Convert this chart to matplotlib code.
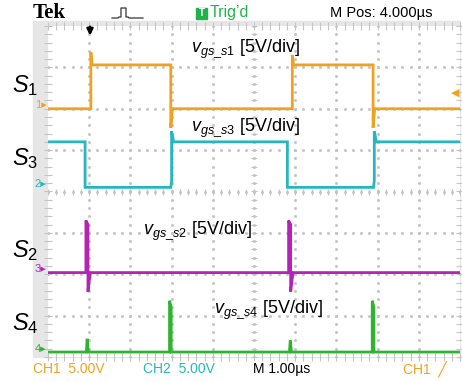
import matplotlib
matplotlib.use("Agg")
import matplotlib.pyplot as plt
from matplotlib.patches import Rectangle
from matplotlib.lines import Line2D
import numpy as np

plt.rcParams['font.family'] = ['Liberation Sans', 'DejaVu Sans']
plt.rcParams['mathtext.fontset'] = 'custom'
plt.rcParams['mathtext.it'] = 'Liberation Sans:italic'
plt.rcParams['mathtext.rm'] = 'Liberation Sans'

W, H = 462, 382
VOLTS_PER_DIV = 5.0

# time in us (1 us/div), levels in volts
t_s1 = [0.00, 1.04, 1.04, 1.07, 2.98, 2.98, 3.02, 5.93, 5.93, 5.96, 7.89, 7.89, 7.93, 10.0]
v_s1 = [0.0, 0.0, 6.8, 5.3, 5.3, -2.3, 0.0, 0.0, 6.5, 5.3, 5.3, -2.3, 0.0, 0.0]

t_s3 = [0.00, 0.90, 0.90, 2.98, 3.00, 3.00, 3.05, 5.81, 5.81, 7.90, 7.92, 7.92, 7.97, 10.0]
v_s3 = [5.5, 5.5, 0.0, 0.0, 0.8, 6.8, 5.5, 5.5, 0.0, 0.0, 0.8, 6.8, 5.5, 5.5]

t_s2 = [0.00, 0.92, 0.92, 0.97, 0.97, 1.00, 1.03, 5.84, 5.84, 5.89, 5.89, 5.92, 5.95, 10.0]
v_s2 = [0.0, 0.0, 6.3, 5.8, -2.3, -1.0, 0.0, 0.0, 6.3, 5.8, -2.3, -1.0, 0.0, 0.0]

t_s4 = [0.00, 0.93, 0.95, 0.98, 2.95, 2.95, 2.99, 2.99, 5.86, 5.88, 5.91, 7.87, 7.87, 7.91, 7.91, 10.0]
v_s4 = [0.0, 0.0, 1.6, 0.0, 0.0, 6.2, 5.4, 0.0, 0.0, 1.4, 0.0, 0.0, 6.2, 5.4, 0.0, 0.0]

# channel ground offsets on screen (div)
offsets = {'1': 2.0, '2': 0.1, '3': -1.96, '4': -3.88}
colors = {'1': '#f0a21e', '2': '#25b6bf', '3': '#b324b6', '4': '#2fb42f'}
traces = {'1': (t_s1, v_s1), '2': (t_s3, v_s3), '3': (t_s2, v_s2), '4': (t_s4, v_s4)}

fig = plt.figure(figsize=(W / 100, H / 100), dpi=100)


def fx(x):
    return x / W


def fy(y):
    return 1 - y / H


# bezel strip around the graticule
fig.patches.append(Rectangle((fx(33), fy(357)), fx(460) - fx(33), fy(21) - fy(357),
                             transform=fig.transFigure, color='#e6e6e6', zorder=-5))

ax = fig.add_axes([fx(48), fy(357), fx(460) - fx(48), fy(26) - fy(357)])
ax.set_xlim(0, 10)
ax.set_ylim(-4, 4)
ax.set_facecolor('white')
for s in ax.spines.values():
    s.set_visible(False)
ax.set_xticks([])
ax.set_yticks([])

# graticule: dotted division lines
dots = np.arange(0, 10.01, 0.2)
vdots = np.arange(-4, 4.01, 0.2)
gc = '#c4c4c4'
for gx in range(1, 10):
    ax.plot(np.full_like(vdots, gx), vdots, ls='none', marker='s', ms=1.0, color=gc, zorder=1)
for gy in range(-3, 4):
    ax.plot(dots, np.full_like(dots, gy), ls='none', marker='s', ms=1.0, color=gc, zorder=1)
# centre cross and edge ticks
ax.plot(dots, np.zeros_like(dots), ls='none', marker='|', ms=5, mew=0.8, color=gc, zorder=1)
ax.plot(np.full_like(vdots, 5), vdots, ls='none', marker='_', ms=5, mew=0.8, color=gc, zorder=1)
for ey in (4, -4):
    ax.plot(dots, np.full_like(dots, ey), ls='none', marker='|', ms=6, mew=0.8, color=gc,
            zorder=1, clip_on=False)
for ex in (0, 10):
    ax.plot(np.full_like(vdots, ex), vdots, ls='none', marker='_', ms=6, mew=0.8, color=gc,
            zorder=1, clip_on=False)

for ch, (t, v) in traces.items():
    y = np.array(v) / VOLTS_PER_DIV + offsets[ch]
    ax.plot(t, y, color=colors[ch], lw=2.0, solid_joinstyle='miter', zorder=3)

# channel ground markers
for ch, off in offsets.items():
    ax.text(-0.03, off + 0.08, ch + '\u25b8', color=colors[ch], fontsize=8,
            ha='right', va='center', clip_on=False)

# trigger position and level markers
ax.annotate('', xy=(1.02, 3.7), xytext=(1.02, 4.05),
            arrowprops=dict(arrowstyle='-|>', color='black', lw=1.8, mutation_scale=9),
            annotation_clip=False)
ax.text(9.99, 2.38, '\u25c0', color=colors['1'], fontsize=8, ha='right', va='center')

lab_kw = dict(fontsize=13, va='center', ha='left')
ax.text(3.46, 3.45, r'$v_{gs\_s1}$ [5V/div]', **lab_kw)
ax.text(3.46, 1.55, r'$v_{gs\_s3}$ [5V/div]', **lab_kw)
ax.text(2.30, -0.95, r'$v_{gs\_s2}$ [5V/div]', **lab_kw)
ax.text(4.02, -2.87, r'$v_{gs\_s4}$ [5V/div]', **lab_kw)

# switch names on the left
for name, yy in (('1', 86), ('3', 159), ('2', 251), ('4', 324)):
    fig.text(fx(12), fy(yy), r'$S_{%s}$' % name, fontsize=17, ha='left', va='center')

# header line
fig.text(fx(33), fy(13), 'Tek', family='Liberation Serif', fontweight='bold',
         fontsize=15, va='center')
px = np.array([112, 118, 119, 121, 121, 126, 126, 128, 129, 134, 136, 143])
py = np.array([18, 18, 17, 17, 8, 8, 17, 17, 18, 18, 18, 18])
fig.add_artist(Line2D(fx(px), fy(py), color='#333333', lw=0.9))
fig.patches.append(Rectangle((fx(196), fy(19)), fx(11), fy(0) - fy(11),
                             transform=fig.transFigure, color='#22b14c'))
fig.text(fx(201.5), fy(13.5), 'T', color='white', fontsize=7, fontweight='bold',
         ha='center', va='center')
fig.text(fx(210), fy(13), "Trig\u2019d", color='#22b14c', fontsize=11.5, va='center')
fig.text(fx(330), fy(13), 'M Pos: 4.000\u00b5s', fontsize=10.5, va='center')

# footer line
fig.text(fx(33), fy(369), 'CH1  5.00V', color='#f0a21e', fontsize=10, va='center')
fig.text(fx(143), fy(369), 'CH2  5.00V', color='#25b6bf', fontsize=10, va='center')
fig.text(fx(253), fy(369), 'M 1.00\u00b5s', fontsize=10, va='center')
fig.text(fx(403), fy(369), 'CH1  \u2571', color='#f0a21e', fontsize=10, va='center')

fig.savefig('out.png', dpi=100)
